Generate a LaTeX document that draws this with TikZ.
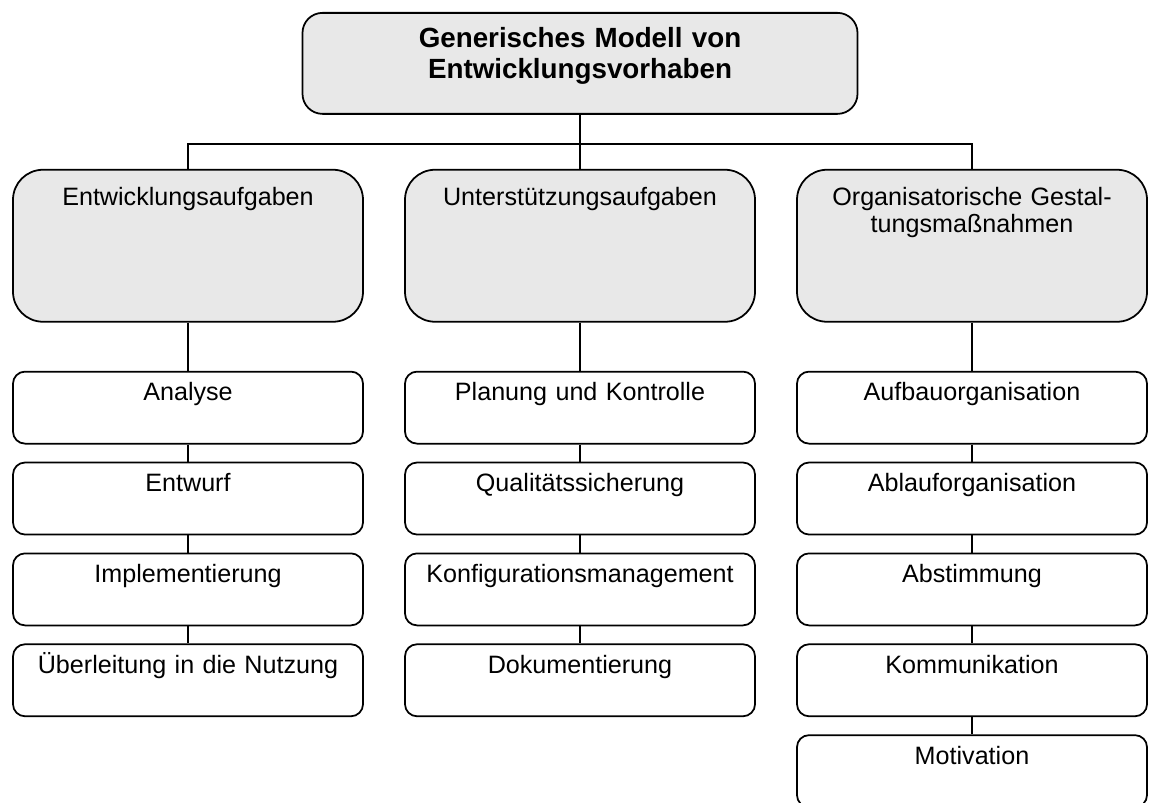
\documentclass[tikz,border=0pt]{standalone}
\usepackage{fontspec}
\setmainfont{Liberation Sans}
\usepackage{tikz}
\definecolor{boxgray}{HTML}{E8E8E8}
\newcommand{\boxfont}{\fontsize{14.3}{15.4}\selectfont}
\newcommand{\headfont}{\fontsize{15.8}{17.5}\selectfont\bfseries}
\tikzstyle{head} = [draw, fill=boxgray, rounded corners=0.4cm, text width=10.8cm, minimum width=11.1cm, align=center, inner xsep=0.15cm, inner ysep=0.28cm, text height=0.416cm, text depth=1.044cm, font=\headfont]
\tikzstyle{area} = [draw, fill=boxgray, rounded corners=0.6cm, text width=6.8cm, minimum width=7cm, align=center, inner xsep=0.1cm, inner ysep=0.34cm, text height=0.378cm, text depth=1.982cm, font=\boxfont]
\tikzstyle{task} = [draw, rounded corners=0.24cm, text width=6.8cm, minimum width=7cm, align=center, inner xsep=0.1cm, inner ysep=0.2cm, text height=0.378cm, text depth=0.662cm, font=\boxfont]

\begin{document}
\begin{tikzpicture}[grow=down, line width=1pt, every node/.style={anchor=north},
    level 1/.style={sibling distance=7.84cm, level distance=2.11cm,
        edge from parent path={(\tikzparentnode.south) -- ++(0,-0.58cm) -| (\tikzchildnode.north)}},
    level 2/.style={level distance=2.5cm,
        edge from parent path={(\tikzparentnode.south) -- (\tikzchildnode.north)}},
    level 3/.style={level distance=1.08cm}]
    \useasboundingbox (0,0) rectangle (23,-16.06);
    \node[head] (model) at (11.6,-0.24) {Generisches Modell von\\Entwicklungsvorhaben}
        child {node[area] (dev) {Entwicklungsaufgaben}
                child {node[task] (ana) {Analyse}
                child {node[task] (entw) {Entwurf}
                child {node[task] (impl) {Implementierung}
                child {node[task] (nutz) {Überleitung in die Nutzung}}}}}}
        child {node[area] (supp) {Unterstützungsaufgaben}
                child {node[task] (plan) {Planung und Kontrolle}
                child {node[task] (qs) {Qualitätssicherung}
                child {node[task] (konf) {Konfigurationsmanagement}
                child {node[task] (doku) {Dokumentierung}}}}}}
        child {node[area] (orga) {Organisatorische Gestal-\\tungsmaßnahmen}
                child {node[task] (aufb) {Aufbauorganisation}
                child {node[task] (abl) {Ablauforganisation}
                child {node[task] (abst) {Abstimmung}
                child {node[task] (komm) {Kommunikation}
                child {node[task] (moti) {Motivation}}}}}}};
\end{tikzpicture}
\end{document}
